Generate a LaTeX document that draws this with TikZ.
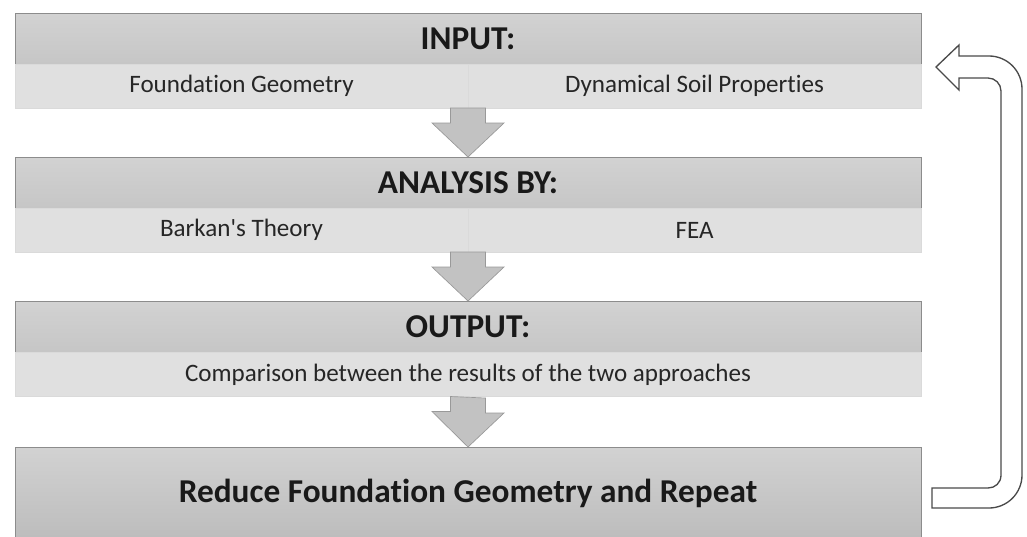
\documentclass[tikz,border=0pt]{standalone}
\usepackage{fontspec}
\newfontfamily\calibri{Carlito}[Ligatures={NoCommon,NoRare}]
\usepackage{tikz}
\usetikzlibrary{calc}
\definecolor{headtop}{HTML}{D2D2D2}
\definecolor{headbot}{HTML}{C6C6C6}
\definecolor{subgray}{HTML}{E0E0E0}
\definecolor{subrim}{HTML}{DADADA}
\definecolor{rimgray}{HTML}{8C8C8C}
\definecolor{arrowgray}{HTML}{C2C2C2}
\definecolor{loopgray}{HTML}{4A4A4A}

\begin{document}
\begin{tikzpicture}[x=0.75pt,y=-0.75pt,
  head/.style={draw=rimgray,line width=0.75pt,top color=headtop,bottom color=headbot,
    minimum width=679.5pt,minimum height=38.25pt,inner sep=0pt,outer sep=0pt,
    font=\calibri\bfseries\fontsize{25}{27}\selectfont,text=black!90},
  sub/.style={fill=subgray,draw=subrim,line width=0.4pt,minimum width=339.75pt,minimum height=33pt,
    inner sep=0pt,outer sep=0pt,font=\calibri\fontsize{18.8}{20}\selectfont,text=black!85},
  final/.style={head,top color=headtop,bottom color=headbot!95!black,minimum height=69.75pt},
  fat/.style={fill=arrowgray,draw=black!40,line width=0.5pt,
    to path={++(-17.5,0) -- ++(0,15) -- ++(-18.5,0) -- (\tikztotarget) -- ++(36,-34) -- ++(-18.5,0) -- ++(0,-15) -- cycle}},
  loop/.style={draw=loopgray,fill=white,line width=1pt,line join=miter}]
\useasboundingbox (0,0) rectangle (1027,536);

\node[head] (in) at (468,38.5) {INPUT:};
\node[sub] (inA) at (241.5,86) {Foundation Geometry};
\node[sub] (inB) at (694.5,86) {Dynamical Soil Properties};

\node[head] (an) at (468,182.5) {ANALYSIS BY:};
\node[sub] (anA) at (241.5,230) {Barkan's Theory};
\node[sub] (anB) at (694.5,230) {FEA};

\node[head] (out) at (468,326.5) {OUTPUT:};
\node[sub,minimum width=679.5pt] (outA) at (468,374.5) {Comparison between the results of the two approaches};

\node[final] (red) at (468,493.5) {Reduce Foundation Geometry and Repeat};

\draw[fat] (inA.south east) to (an.north);
\draw[fat] (anA.south east) to (out.north);
\draw[fat] (outA.south) to (red.north);

% return arrow
\coordinate (loopend) at (932,498);
\coordinate (looptip) at (936,67);
\draw[loop] ($(loopend)+(0,10)$) -- ($(loopend)+(0,-10)$) -- (988,488)
  .. controls (995.2,488) and (1001,482.8) .. (1001,475) -- (1001,91)
  .. controls (1001,83.8) and (995.2,78) .. (988,78) -- (959,78) -- (959,90)
  -- (looptip) -- (959,45) -- (959,56) -- (989,56)
  .. controls (1007.2,56) and (1022,70.8) .. (1022,89) -- (1022,475)
  .. controls (1022,493.2) and (1007.2,508) .. (989,508) -- cycle;
\end{tikzpicture}
\end{document}
